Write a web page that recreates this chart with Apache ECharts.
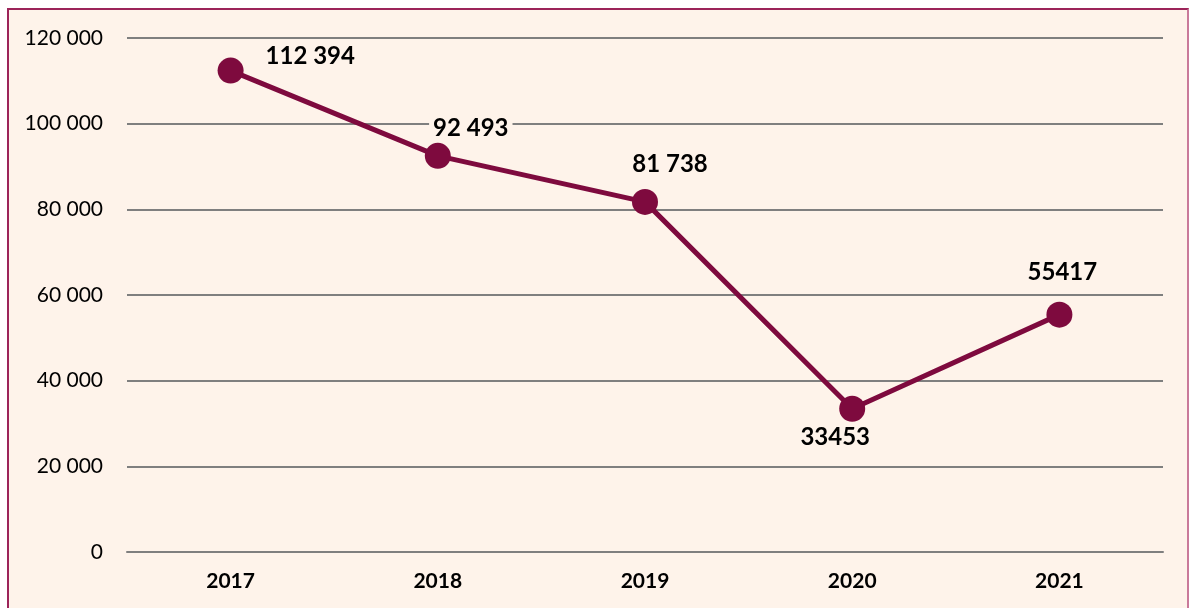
<!DOCTYPE html>
<html>
<head>
    <meta charset="utf-8">
    <title>chart</title>
    <script src="https://cdn.jsdelivr.net/npm/echarts@6/dist/echarts.min.js"></script>
    <style>
        html, body { margin: 0; padding: 0; background: #ffffff; overflow: hidden; }
        #frame {
            position: absolute; left: 7px; top: 8px; width: 1178px; height: 640px;
            border: 2px solid #9c2459; border-right-color: #c97a9a; background: #fef3ea;
        }
        #main { position: absolute; left: 0; top: 0; width: 1192px; height: 608px; }
    </style>
</head>
<body>
<div id="frame"></div>
<div id="main"></div>
<script type="text/javascript">
    // data
    var years = ['2017', '2018', '2019', '2020', '2021'];
    var values = [112394, 92493, 81738, 33453, 55417];
    var labelTexts = ['112 394', '92 493', '81 738', '33453', '55417'];

    var lineColor = '#7e0a3e';
    var bg = '#fef3ea';

    // label placement per point
    var labelPos = [
        { position: 'right', distance: 18, offset: [0, -14] },
        { position: 'top', distance: 1, offset: [33, 0] },
        { position: 'top', distance: 11, offset: [25, 0] },
        { position: 'bottom', distance: 2, offset: [-17, 0] },
        { position: 'top', distance: 15, offset: [3, 0] }
    ];

    var seriesData = [];
    for (var i = 0; i < values.length; i++) {
        seriesData.push({
            value: values[i],
            label: {
                position: labelPos[i].position,
                distance: labelPos[i].distance,
                offset: labelPos[i].offset
            }
        });
    }

    var myChart = echarts.init(document.getElementById('main'));
    var option = {
        backgroundColor: 'transparent',
        animation: false,
        grid: { left: 127, right: 29, top: 38, bottom: 56 },
        xAxis: {
            type: 'category',
            data: years,
            boundaryGap: true,
            axisLine: { show: true, lineStyle: { color: '#7f7f7f', width: 2 } },
            axisTick: { show: false },
            axisLabel: {
                margin: 19,
                color: '#000000',
                fontFamily: 'Lato',
                fontWeight: 'bold',
                fontSize: 21
            }
        },
        yAxis: {
            type: 'value',
            min: 0,
            max: 120000,
            interval: 20000,
            axisLine: { show: false },
            axisTick: { show: false },
            splitLine: { lineStyle: { color: '#7f7f7f', width: 2 } },
            axisLabel: {
                margin: 24,
                color: '#000000',
                fontFamily: 'Lato',
                fontSize: 21,
                formatter: function (v) {
                    return String(v).replace(/\B(?=(\d{3})+(?!\d))/g, ' ');
                }
            }
        },
        series: [{
            type: 'line',
            data: seriesData,
            symbol: 'circle',
            symbolSize: 26,
            lineStyle: { color: lineColor, width: 5 },
            itemStyle: { color: lineColor },
            label: {
                show: true,
                color: '#000000',
                fontFamily: 'Lato',
                fontWeight: 'bold',
                fontSize: 24,
                backgroundColor: bg,
                padding: [2, 4],
                formatter: function (p) {
                    return labelTexts[p.dataIndex];
                }
            },
            z: 3
        }]
    };
    myChart.setOption(option);
</script>
</body>
</html>
